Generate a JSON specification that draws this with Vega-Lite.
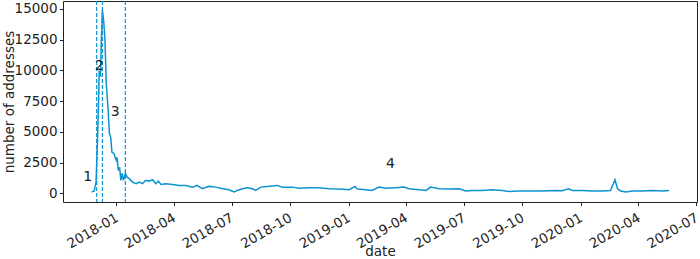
{
  "$schema": "https://vega.github.io/schema/vega-lite/v6.json",
  "width": 634,
  "height": 201,
  "autosize": {"type": "none"},
  "padding": {"left": 63, "top": 1, "right": 3, "bottom": 57},
  "background": "white",
  "config": {
    "font": "DejaVu Sans",
    "view": {"stroke": "#222", "strokeWidth": 1},
    "axis": {
      "grid": false,
      "domain": false,
      "tickColor": "#222",
      "tickSize": 3.5,
      "labelFont": "DejaVu Sans",
      "labelFontSize": 13.5,
      "labelColor": "#222",
      "labelOverlap": false,
      "titleFont": "DejaVu Sans",
      "titleFontSize": 13.5,
      "titleFontWeight": "normal",
      "titleColor": "#222"
    },
    "axisX": {
      "labelExpr": "utcFormat(datum.value, '%Y-%m')",
      "labelAngle": -30,
      "labelAlign": "right",
      "labelBaseline": "top",
      "labelPadding": 5,
      "labelOffset": -3,
      "labelFlush": false,
      "titlePadding": -6
    },
    "axisY": {
      "labelPadding": 2.5,
      "titlePadding": -2
    }
  },
  "datasets": {
    "series": [
      {"date": "2017-11-23", "n": 100},
      {"date": "2017-11-27", "n": 190},
      {"date": "2017-11-30", "n": 920},
      {"date": "2017-12-02", "n": 4000},
      {"date": "2017-12-04", "n": 7500},
      {"date": "2017-12-05", "n": 10000},
      {"date": "2017-12-07", "n": 9500},
      {"date": "2017-12-08", "n": 12000},
      {"date": "2017-12-10", "n": 14900},
      {"date": "2017-12-12", "n": 14000},
      {"date": "2017-12-14", "n": 12470},
      {"date": "2017-12-16", "n": 8960},
      {"date": "2017-12-19", "n": 6760},
      {"date": "2017-12-21", "n": 4890},
      {"date": "2017-12-23", "n": 4560},
      {"date": "2017-12-25", "n": 3340},
      {"date": "2017-12-28", "n": 3260},
      {"date": "2017-12-30", "n": 2930},
      {"date": "2018-01-01", "n": 2690},
      {"date": "2018-01-02", "n": 2930},
      {"date": "2018-01-04", "n": 1870},
      {"date": "2018-01-06", "n": 2120},
      {"date": "2018-01-08", "n": 1060},
      {"date": "2018-01-10", "n": 1630},
      {"date": "2018-01-12", "n": 1060},
      {"date": "2018-01-15", "n": 1630},
      {"date": "2018-01-18", "n": 1300},
      {"date": "2018-01-21", "n": 1220},
      {"date": "2018-01-26", "n": 920},
      {"date": "2018-02-01", "n": 790},
      {"date": "2018-02-06", "n": 920},
      {"date": "2018-02-11", "n": 790},
      {"date": "2018-02-16", "n": 1060},
      {"date": "2018-02-21", "n": 1000},
      {"date": "2018-02-27", "n": 1110},
      {"date": "2018-03-04", "n": 790},
      {"date": "2018-03-08", "n": 1000},
      {"date": "2018-03-12", "n": 730},
      {"date": "2018-03-20", "n": 790},
      {"date": "2018-03-30", "n": 730},
      {"date": "2018-04-10", "n": 650},
      {"date": "2018-04-20", "n": 650},
      {"date": "2018-05-01", "n": 510},
      {"date": "2018-05-08", "n": 650},
      {"date": "2018-05-16", "n": 380},
      {"date": "2018-05-27", "n": 570},
      {"date": "2018-06-06", "n": 510},
      {"date": "2018-06-17", "n": 380},
      {"date": "2018-06-27", "n": 300},
      {"date": "2018-07-05", "n": 110},
      {"date": "2018-07-10", "n": 240},
      {"date": "2018-07-18", "n": 380},
      {"date": "2018-07-26", "n": 460},
      {"date": "2018-08-03", "n": 380},
      {"date": "2018-08-08", "n": 240},
      {"date": "2018-08-16", "n": 510},
      {"date": "2018-08-26", "n": 570},
      {"date": "2018-09-11", "n": 650},
      {"date": "2018-09-19", "n": 510},
      {"date": "2018-10-05", "n": 510},
      {"date": "2018-10-15", "n": 410},
      {"date": "2018-10-31", "n": 460},
      {"date": "2018-11-16", "n": 460},
      {"date": "2018-12-01", "n": 380},
      {"date": "2018-12-17", "n": 350},
      {"date": "2019-01-02", "n": 300},
      {"date": "2019-01-11", "n": 570},
      {"date": "2019-01-15", "n": 350},
      {"date": "2019-01-28", "n": 300},
      {"date": "2019-02-07", "n": 240},
      {"date": "2019-02-18", "n": 510},
      {"date": "2019-02-28", "n": 410},
      {"date": "2019-03-16", "n": 460},
      {"date": "2019-03-29", "n": 510},
      {"date": "2019-04-06", "n": 380},
      {"date": "2019-04-22", "n": 300},
      {"date": "2019-05-03", "n": 240},
      {"date": "2019-05-10", "n": 510},
      {"date": "2019-05-23", "n": 380},
      {"date": "2019-06-08", "n": 350},
      {"date": "2019-06-24", "n": 380},
      {"date": "2019-07-04", "n": 190},
      {"date": "2019-07-14", "n": 240},
      {"date": "2019-07-30", "n": 240},
      {"date": "2019-08-15", "n": 300},
      {"date": "2019-08-31", "n": 240},
      {"date": "2019-09-10", "n": 160},
      {"date": "2019-09-26", "n": 190},
      {"date": "2019-10-12", "n": 190},
      {"date": "2019-11-01", "n": 190},
      {"date": "2019-11-23", "n": 240},
      {"date": "2019-12-03", "n": 220},
      {"date": "2019-12-13", "n": 380},
      {"date": "2019-12-19", "n": 240},
      {"date": "2020-01-04", "n": 240},
      {"date": "2020-01-19", "n": 190},
      {"date": "2020-02-04", "n": 190},
      {"date": "2020-02-17", "n": 240},
      {"date": "2020-02-24", "n": 1110},
      {"date": "2020-02-28", "n": 380},
      {"date": "2020-03-04", "n": 190},
      {"date": "2020-03-12", "n": 110},
      {"date": "2020-03-22", "n": 190},
      {"date": "2020-04-07", "n": 190},
      {"date": "2020-04-23", "n": 240},
      {"date": "2020-05-09", "n": 190},
      {"date": "2020-05-19", "n": 240}
    ],
    "breaks": [
      {"date": "2017-12-01"},
      {"date": "2017-12-10"},
      {"date": "2018-01-15"}
    ],
    "labels": [
      {"date": "2017-11-17", "n": 1300, "label": "1"},
      {"date": "2017-12-05", "n": 10350, "label": "2"},
      {"date": "2017-12-30", "n": 6600, "label": "3"},
      {"date": "2019-03-08", "n": 2360, "label": "4"}
    ]
  },
  "layer": [
    {
      "data": {"name": "series"},
      "mark": {"type": "line", "color": "#0a93cf", "strokeWidth": 1.5, "clip": true},
      "encoding": {
        "x": {
          "field": "date",
          "type": "temporal",
          "title": "date",
          "scale": {
            "type": "utc",
            "domain": [
              {"year": 2017, "month": 10, "date": 9, "utc": true},
              {"year": 2020, "month": 7, "date": 2, "utc": true}
            ]
          }
        },
        "y": {
          "field": "n",
          "type": "quantitative",
          "title": "number of addresses",
          "scale": {"domain": [-700, 15650], "nice": false, "zero": false},
          "axis": {
            "values": [0, 2500, 5000, 7500, 10000, 12500, 15000],
            "tickCount": 20,
            "format": "d"
          }
        }
      }
    },
    {
      "data": {"name": "breaks"},
      "mark": {"type": "rule", "color": "#0a93cf", "strokeWidth": 1.2, "strokeDash": [4, 2]},
      "encoding": {
        "x": {"field": "date", "type": "temporal", "title": "date"}
      }
    },
    {
      "data": {"name": "labels"},
      "mark": {"type": "text", "fontSize": 14, "color": "#222", "font": "DejaVu Sans"},
      "encoding": {
        "x": {"field": "date", "type": "temporal", "title": "date"},
        "y": {"field": "n", "type": "quantitative", "title": "number of addresses"},
        "text": {"field": "label"}
      }
    }
  ]
}
